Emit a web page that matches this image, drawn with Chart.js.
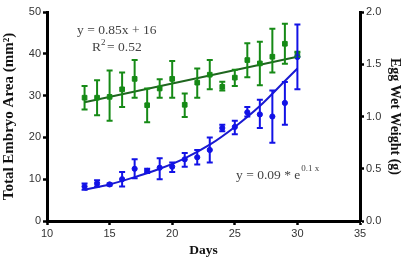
<!DOCTYPE html>
<html><head><meta charset="utf-8">
<script src="https://cdn.jsdelivr.net/npm/chart.js@4/dist/chart.umd.min.js"></script>
<style>html,body{margin:0;padding:0;background:#fff}#wrap{width:415px;height:263px}</style>
</head><body><div id="wrap"><canvas id="c"></canvas></div>
<script>
// ---- data ----
const days = [13,14,15,16,17,18,19,20,21,22,23,24,25,26,27,28,29,30];
// Total embryo area (mm^2), left axis (green squares)
const areaMean = [29.5,29.5,29.7,31.5,34.0,27.7,31.7,34.0,27.8,33.1,35.0,32.1,34.3,38.5,37.7,39.3,42.4,39.9];
const areaHigh = [32.3,33.7,36.0,35.5,38.5,31.7,33.9,38.3,30.5,36.5,38.5,33.3,36.2,42.5,42.9,46.0,47.2,40.5];
const areaLow  = [26.7,25.3,24.0,27.3,29.5,23.6,29.5,29.5,24.9,29.5,31.5,31.2,32.3,34.4,32.5,35.5,37.6,39.3];
// Egg wet weight (g), right axis (blue circles)
const weightMean = [0.33,0.36,0.35,0.40,0.50,0.48,0.51,0.52,0.59,0.61,0.68,0.89,0.90,1.04,1.02,1.00,1.13,1.57];
const weightHigh = [0.36,0.39,0.36,0.47,0.59,0.50,0.60,0.56,0.65,0.68,0.80,0.92,0.96,1.09,1.16,1.25,1.33,1.88];
const weightLow  = [0.30,0.33,0.34,0.33,0.41,0.46,0.40,0.47,0.52,0.54,0.56,0.86,0.83,1.00,0.89,0.75,0.92,1.26];
// fitted lines
const areaFitX = [13,30];
const areaFitY = [28.4,39.3];
const weightFitX = [13,15,17,19,21,23,25,27,29,30];
const weightFitY = [0.30,0.35,0.42,0.50,0.60,0.73,0.90,1.10,1.34,1.46];
// axis ticks
const xTicks = [10,15,20,25,30,35];
const leftTicks = [0,10,20,30,40,50];
const rightTicks = [0.0,0.5,1.0,1.5,2.0];

const GREEN = '#168a16', GREEN_LINE = '#1f661f', BLUE = '#1212e6', BLUE_LINE = '#1a1ad0';
const pts = (xs, ys) => xs.map((x,i)=>({x, y: ys[i]}));

const errorBars = {
  id: 'errorBars',
  afterDatasetsDraw(chart) {
    const ctx = chart.ctx, xs = chart.scales.x;
    const sets = [
      {lo: areaLow, hi: areaHigh, ax: chart.scales.y, col: GREEN},
      {lo: weightLow, hi: weightHigh, ax: chart.scales.y2, col: BLUE}
    ];
    ctx.save();
    ctx.lineWidth = 2;
    for (const s of sets) {
      ctx.strokeStyle = s.col;
      days.forEach((d,i)=>{
        const px = xs.getPixelForValue(d);
        const t = s.ax.getPixelForValue(s.hi[i]), b = s.ax.getPixelForValue(s.lo[i]);
        ctx.beginPath();
        ctx.moveTo(px, t); ctx.lineTo(px, b);
        ctx.moveTo(px-3, t); ctx.lineTo(px+3, t);
        ctx.moveTo(px-3, b); ctx.lineTo(px+3, b);
        ctx.stroke();
      });
    }
    ctx.restore();
  }
};

const notes = {
  id: 'notes',
  afterDraw(chart) {
    const ctx = chart.ctx, xs = chart.scales.x, ys = chart.scales.y;
    ctx.save();
    ctx.fillStyle = '#444';
    ctx.textBaseline = 'middle';
    const big = '13.5px "Liberation Serif"', small = '9px "Liberation Serif"';
    ctx.font = big;
    let x = xs.getPixelForValue(12.4), y = ys.getPixelForValue(45.6);
    ctx.fillText('y = 0.85x + 16', x, y);
    x = xs.getPixelForValue(13.6); y = ys.getPixelForValue(41.4);
    ctx.fillText('R', x, y);
    let w = ctx.measureText('R').width;
    ctx.font = small;
    ctx.fillText('2', x+w, y-5);
    ctx.font = big;
    ctx.fillText('= 0.52', x+w+6, y);
    x = xs.getPixelForValue(25.1); y = ys.getPixelForValue(11.0);
    ctx.fillText('y = 0.09 * e', x, y);
    w = ctx.measureText('y = 0.09 * e').width;
    ctx.font = small;
    ctx.fillText('0.1 x', x+w+1, y-6);
    ctx.restore();
  }
};

const tickFont = {family: '"Liberation Sans", Arial', size: 11};
const serif = '"Liberation Serif", "Times New Roman"';

new Chart(document.getElementById('c'), {
  type: 'scatter',
  data: {
    datasets: [
      {data: pts(weightFitX, weightFitY), yAxisID: 'y2', showLine: true, borderColor: BLUE_LINE, borderWidth: 2, pointRadius: 0, cubicInterpolationMode: 'monotone', order: 1},
      {data: pts(days, weightMean), yAxisID: 'y2', pointStyle: 'circle', pointRadius: 2.6, backgroundColor: BLUE, borderColor: BLUE, order: 0},
      {data: pts(areaFitX, areaFitY), yAxisID: 'y', showLine: true, borderColor: GREEN_LINE, borderWidth: 2, pointRadius: 0, order: 3},
      {data: pts(days, areaMean), yAxisID: 'y', pointStyle: 'rect', pointRadius: 3.3, backgroundColor: GREEN, borderColor: GREEN, order: 2}
    ]
  },
  options: {
    responsive: true, maintainAspectRatio: false, animation: false,
    layout: {padding: {top: 12, left: 0, right: 0, bottom: 0}},
    plugins: {legend: {display: false}, tooltip: {enabled: false}},
    scales: {
      x: {
        type: 'linear', min: 10, max: 35,
        afterBuildTicks: s => { s.ticks = xTicks.map(v=>({value:v})); },
        afterFit: s => { s.height = 42; },
        border: {display: true, width: 3, color: '#000'},
        grid: {drawOnChartArea: false, tickLength: 4, tickWidth: 2.5, tickColor: '#000'},
        ticks: {font: tickFont, color: '#333', padding: 2},
        title: {display: true, text: 'Days', font: {family: serif, size: 13.5, weight: 'bold'}, color: '#111', padding: {top: 3}}
      },
      y: {
        position: 'left', min: 0, max: 50,
        afterBuildTicks: s => { s.ticks = leftTicks.map(v=>({value:v})); },
        afterFit: s => { s.width = 47; },
        border: {display: true, width: 3, color: '#000'},
        grid: {drawOnChartArea: false, tickLength: 4, tickWidth: 2.5, tickColor: '#000'},
        ticks: {font: tickFont, color: '#333', padding: 2},
        title: {display: true, text: 'Total Embryo Area (mm²)', font: {family: serif, size: 15, weight: 'bold'}, color: '#111', padding: {top: 0, bottom: 0}}
      },
      y2: {
        position: 'right', min: 0, max: 2,
        afterBuildTicks: s => { s.ticks = rightTicks.map(v=>({value:v})); },
        afterFit: s => { s.width = 55; },
        border: {display: true, width: 3, color: '#000'},
        grid: {drawOnChartArea: false, tickLength: 4, tickWidth: 2.5, tickColor: '#000'},
        ticks: {font: tickFont, color: '#333', padding: 2, callback: v => Number(v).toFixed(1)},
        title: {display: true, text: 'Egg Wet Weight (g)', font: {family: serif, size: 14, weight: 'bold'}, color: '#111', padding: {top: 12}}
      }
    }
  },
  plugins: [errorBars, notes]
});
</script>
</body></html>
